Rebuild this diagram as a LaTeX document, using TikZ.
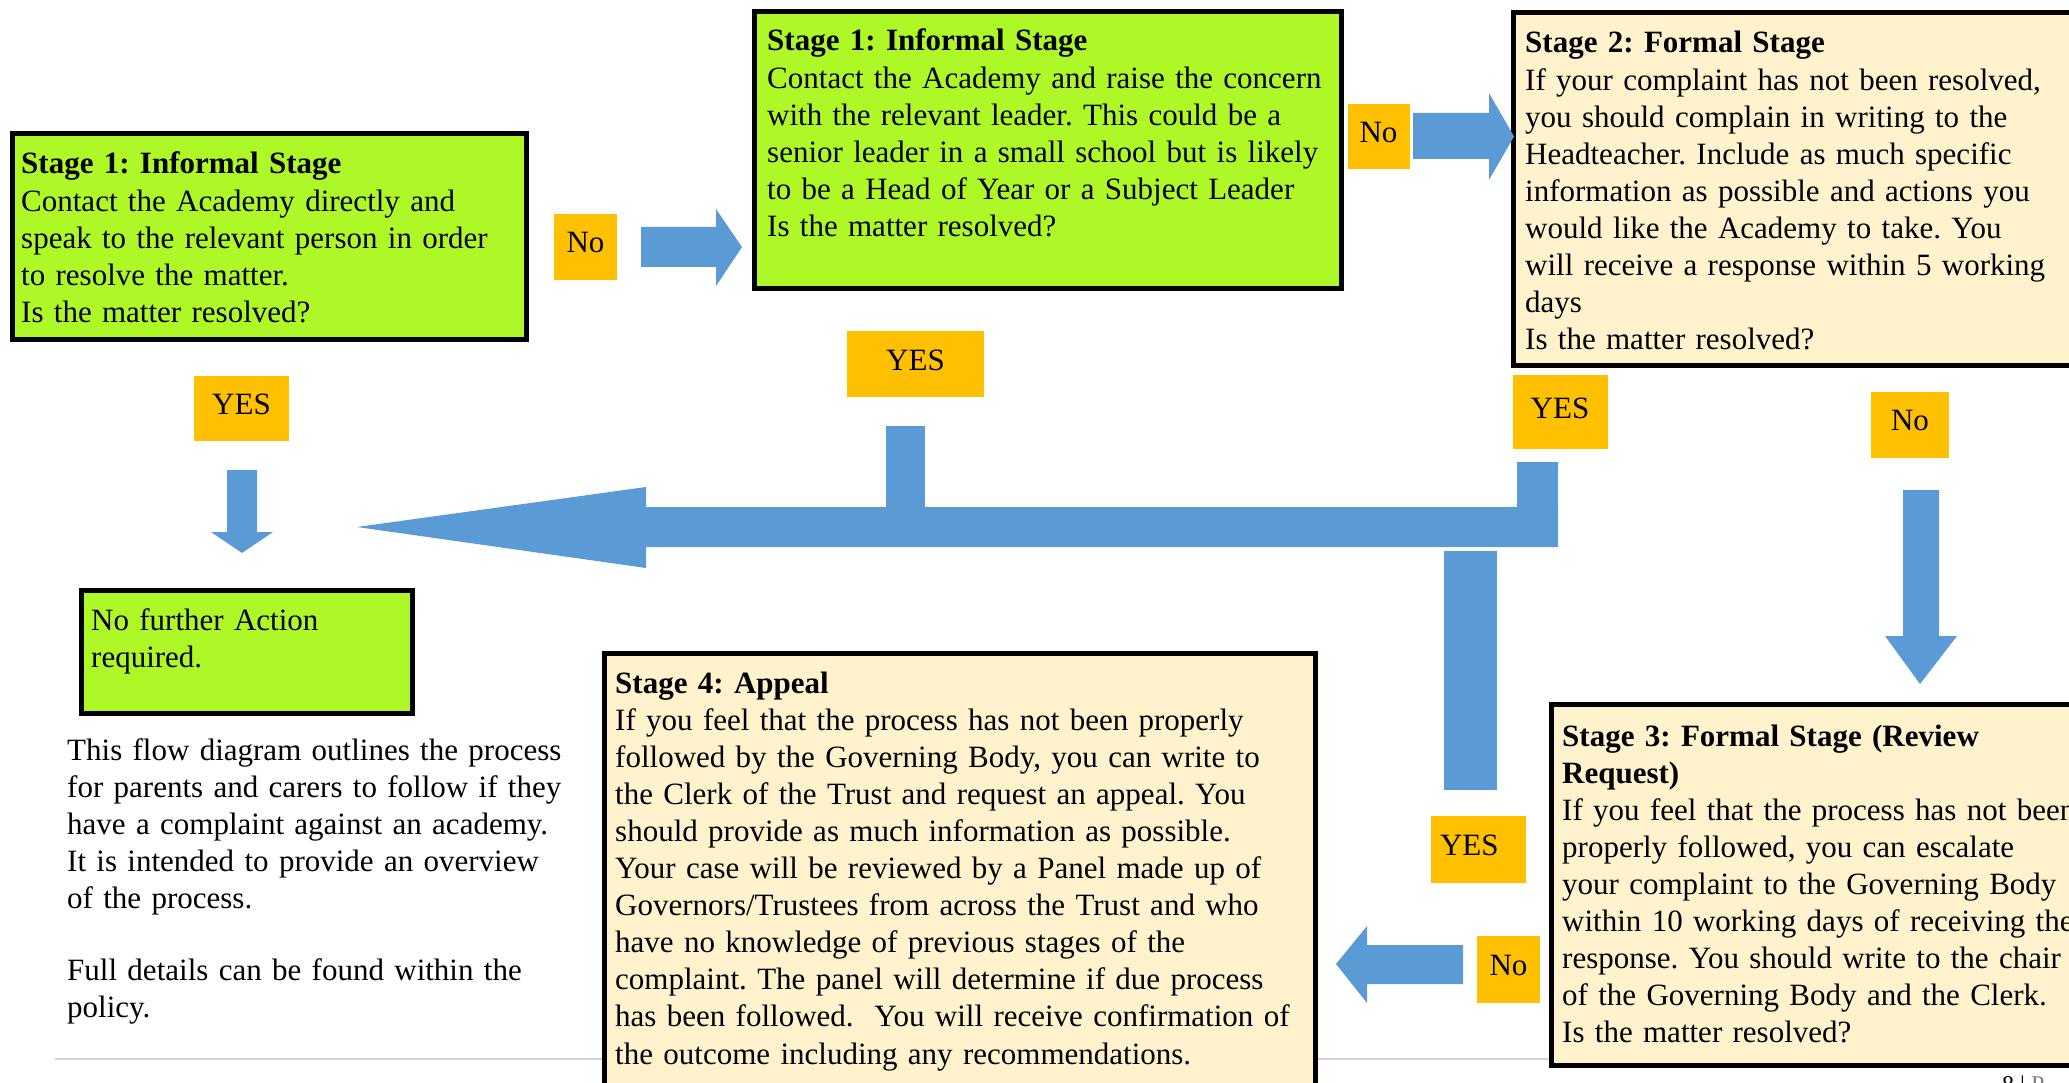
\documentclass[tikz,border=0pt]{standalone}
\usepackage{fontspec}
\setmainfont{Liberation Serif}
\frenchspacing

\definecolor{stagegreen}{HTML}{AEF828}
\definecolor{stagecream}{HTML}{FFF2CC}
\definecolor{tagorange}{HTML}{FFC000}
\definecolor{arrowblue}{HTML}{5B9BD5}

\begin{document}
\begin{tikzpicture}[x=1pt, y=-1pt,
  greenbox/.style={draw=black, line width=5pt, fill=stagegreen},
  creambox/.style={draw=black, line width=5pt, fill=stagecream},
  stagetext/.style={anchor=base west, inner sep=0pt, align=left, text width=700pt,
    font=\fontsize{31.0}{37.1}\selectfont},
  tag/.style={fill=tagorange, inner sep=0pt, text height=22pt, text depth=10pt,
    font=\fontsize{31.0}{37.1}\selectfont},
  blockarrow/.style={fill=arrowblue}]
\useasboundingbox (0,0) rectangle (2069,1083);
\clip (0,0) rectangle (2069,1083);
% page rule:
\draw[gray!35, line width=2pt] (55,1059) -- (2069,1059);

% stage boxes:
\draw[greenbox] (12.5,133.5) rectangle (526.5,339.5);
\node[stagetext] (s1left) at (21,174) {\textbf{Stage 1: Informal Stage}\\
Contact the Academy directly and\\
speak to the relevant person in order\\
to resolve the matter.\\
Is the matter resolved?};
\draw[greenbox] (754.5,11.5) rectangle (1341.5,288.5);
\node[stagetext] (s1mid) at (767,51) {\textbf{Stage 1: Informal Stage}\\
Contact the Academy and raise the concern\\
with the relevant leader. This could be a\\
senior leader in a small school but is likely\\
to be a Head of Year or a Subject Leader\\
Is the matter resolved?};
\draw[creambox] (1513.5,12.5) rectangle (2080,365.5);
\node[stagetext] (s2) at (1525,53) {\textbf{Stage 2: Formal Stage}\\
If your complaint has not been resolved,\\
you should complain in writing to the\\
Headteacher. Include as much specific\\
information as possible and actions you\\
would like the Academy to take. You\\
will receive a response within 5 working\\
days\\
Is the matter resolved?};
\draw[creambox] (1551.5,704.5) rectangle (2080,1065.5);
\node[stagetext] (s3) at (1562,746) {\textbf{Stage 3: Formal Stage (Review}\\
\textbf{Request)}\\
If you feel that the process has not been\\
properly followed, you can escalate\\
your complaint to the Governing Body\\
within 10 working days of receiving the\\
response. You should write to the chair\\
of the Governing Body and the Clerk.\\
Is the matter resolved?};
\draw[creambox] (604.5,653.5) rectangle (1315.5,1100);
\node[stagetext] (s4) at (615,693) {\textbf{Stage 4: Appeal}\\
If you feel that the process has not been properly\\
followed by the Governing Body, you can write to\\
the Clerk of the Trust and request an appeal. You\\
should provide as much information as possible.\\
Your case will be reviewed by a Panel made up of\\
Governors/Trustees from across the Trust and who\\
have no knowledge of previous stages of the\\
complaint. The panel will determine if due process\\
has been followed.\ \ You will receive confirmation of\\
the outcome including any recommendations.};
\draw[greenbox] (81.5,590.5) rectangle (412.5,713.5);
\node[stagetext] (done) at (91,630) {No further Action\\
required.};

% note below:
\node[stagetext] (note) at (67,760) {This flow diagram outlines the process\\
for parents and carers to follow if they\\
have a complaint against an academy.\\
It is intended to provide an overview\\
of the process.\\[35pt]
Full details can be found within the\\
policy.};
\node[anchor=base west, inner sep=0pt, font=\fontsize{24}{28}\selectfont] (pagenum)
  at (2002,1092) {8 \textbar\ {\color{gray}P}};

% arrows:
\fill[blockarrow] (641,227) -- (716,227) -- (716,209) -- (742,247) -- (716,286) -- (716,267) -- (641,267) -- cycle;
\fill[blockarrow] (1413,113) -- (1489,113) -- (1489,93) -- (1514,136.5) -- (1489,180) -- (1489,159) -- (1413,159) -- cycle;
\fill[blockarrow] (227,470) -- (257,470) -- (257,532) -- (273,532) -- (242,553) -- (211,532) -- (227,532) -- cycle;
\fill[blockarrow] (1558,507) -- (1558,547) -- (646,547) -- (646,568) -- (357,527) -- (646,487) -- (646,507) -- cycle;
\fill[blockarrow] (886,426) rectangle (925,508);
\fill[blockarrow] (1517,462) rectangle (1558,547);
\fill[blockarrow] (1444,551) rectangle (1497,790);
\fill[blockarrow] (1463,945) -- (1463,984) -- (1367,984) -- (1367,1003) -- (1336,964) -- (1367,926) -- (1367,945) -- cycle;
\fill[blockarrow] (1903,490) -- (1939,490) -- (1939,636) -- (1957,636) -- (1920,684) -- (1885,636) -- (1903,636) -- cycle;

% answers:
\node[tag, minimum width=63pt, minimum height=66pt] (no1) at (585.5,247) {No};
\node[tag, minimum width=95pt, minimum height=65pt] (yes1) at (241.5,408.5) {YES};
\node[tag, minimum width=137pt, minimum height=66pt] (yes2) at (915.5,364) {YES};
\node[tag, minimum width=62pt, minimum height=65pt] (no2) at (1378.5,136.5) {No};
\node[tag, minimum width=95pt, minimum height=74pt] (yes3) at (1560,412) {YES};
\node[tag, minimum width=78pt, minimum height=66pt] (no3) at (1910,424.5) {No};
\node[tag, inner xsep=9pt, text width=77pt, align=left, minimum height=67pt] (yes4) at (1478.5,849.5) {YES};
\node[tag, minimum width=63pt, minimum height=67pt] (no4) at (1508.5,969.5) {No};
\end{tikzpicture}
\end{document}
